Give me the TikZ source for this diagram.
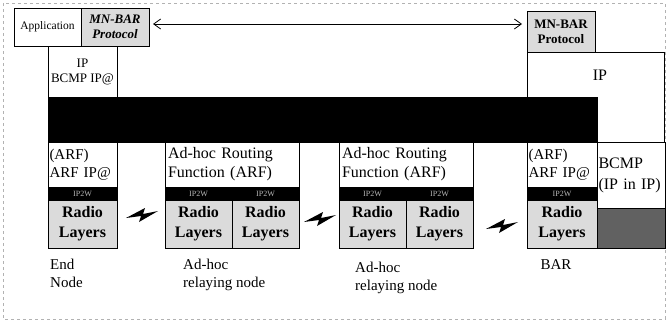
\documentclass[tikz,border=0pt]{standalone}
\usepackage{fontspec}
\setmainfont{Liberation Serif}
\usetikzlibrary{arrows.meta}
\tikzset{
  box/.style={draw, line width=0.6pt, inner sep=0pt, outer sep=0pt, align=center},
  arfbox/.style={box, align=left, inner xsep=3pt, font=\fontsize{16}{19}\selectfont},
  endarf/.style={box, align=left, inner xsep=1.5pt, font=\fontsize{15}{18}\selectfont},
  greybox/.style={box, fill=gray!28},
  radbox/.style={greybox, font=\fontsize{16}{20}\selectfont\bfseries},
  darkbox/.style={box, fill=black!62},
  blackbar/.style={fill=black, draw=black, inner sep=0pt, outer sep=0pt},
  strip/.style={fill=black, draw=black, line width=0.6pt, inner sep=0pt, outer sep=0pt, text=gray!55, font=\fontsize{8}{9}\selectfont},
  lbl/.style={inner sep=0pt, align=left, anchor=north west, font=\fontsize{15}{18}\selectfont},
  txt/.style={inner sep=0pt, align=left},
  boltshape/.style={fill=black}
}
\newcommand{\mybolt}[2]{\fill[boltshape, shift={(#1,#2)}] (-16,4) -- (3,-6) -- (1,0) -- (16,-3) -- (-3,8) -- (-1,2) -- cycle;}
\begin{document}
\begin{tikzpicture}[x=1pt,y=-1pt]
\useasboundingbox (0,0) rectangle (668,324);
\draw[gray!60, dashed, line width=0.5pt] (3,3) rectangle (665,319);
% top left stack
\node[box, minimum width=67pt, minimum height=38pt, font=\fontsize{11.5}{13}\selectfont] (app) at (47.5,27) {Application};
\node[greybox, minimum width=68pt, minimum height=38pt, font=\fontsize{13}{15}\selectfont\bfseries\itshape] (mnl) at (115,27) {MN-BAR\\Protocol};
\node[box, minimum width=69pt, minimum height=51pt, font=\fontsize{13}{15}\selectfont] (ipl) at (82.5,71.5) {IP\\BCMP IP@};
% right stack
\node[greybox, minimum width=68pt, minimum height=41pt, font=\fontsize{13}{15}\selectfont\bfseries] (mnr) at (561,31.5) {MN-BAR\\Protocol};
\node[box, minimum width=137pt, minimum height=90pt] (ipr) at (595.5,97) {};
\node[txt, font=\fontsize{16}{18}\selectfont] (iprt) at (600,75) {IP};
% black bar
\node[blackbar, minimum width=549pt, minimum height=45pt] (bar) at (322.5,119.5) {};
% arrow
\draw[{Straight Barb[length=7pt,width=10pt]}-{Straight Barb[length=7pt,width=10pt]}, line width=0.8pt]
  ([shift={(4,-3)}]mnl.east) -- ([shift={(-5,-7.5)}]mnr.west);
% End node
\node[endarf, minimum width=69pt, minimum height=45pt, text width=66pt] (earf) at (82.5,164.5) {(ARF)\\ARF IP@};
\node[strip, minimum width=69pt, minimum height=13pt] (eip) at (82.5,193.5) {IP2W};
\node[radbox, minimum width=69pt, minimum height=48pt] (erad) at (82.5,224) {Radio\\Layers};
% Relay 1
\node[arfbox, minimum width=134pt, minimum height=45pt, text width=128pt] (r1arf) at (232,164.5) {Ad-hoc Routing\\Function (ARF)};
\node[strip, minimum width=67pt, minimum height=13pt] (r1ipa) at (198.5,193.5) {IP2W};
\node[strip, minimum width=67pt, minimum height=13pt] (r1ipb) at (265.5,193.5) {IP2W};
\node[radbox, minimum width=67pt, minimum height=48pt] (r1rada) at (198.5,224) {Radio\\Layers};
\node[radbox, minimum width=67pt, minimum height=48pt] (r1radb) at (265.5,224) {Radio\\Layers};
% Relay 2
\node[arfbox, minimum width=134pt, minimum height=45pt, text width=128pt] (r2arf) at (406,164.5) {Ad-hoc Routing\\Function (ARF)};
\node[strip, minimum width=67pt, minimum height=13pt] (r2ipa) at (372.5,193.5) {IP2W};
\node[strip, minimum width=67pt, minimum height=13pt] (r2ipb) at (439.5,193.5) {IP2W};
\node[radbox, minimum width=67pt, minimum height=48pt] (r2rada) at (372.5,224) {Radio\\Layers};
\node[radbox, minimum width=67pt, minimum height=48pt] (r2radb) at (439.5,224) {Radio\\Layers};
% BAR
\node[endarf, minimum width=70pt, minimum height=45pt, text width=67pt] (barf) at (562,164.5) {(ARF)\\ARF IP@};
\node[strip, minimum width=70pt, minimum height=13pt] (bip) at (562,193.5) {IP2W};
\node[radbox, minimum width=70pt, minimum height=48pt] (brad) at (562,224) {Radio\\Layers};
\node[endarf, minimum width=68pt, minimum height=66pt, text width=65pt, font=\fontsize{16}{21}\selectfont] (bcmp) at (631,175) {BCMP\\(IP in IP)};
\node[darkbox, minimum width=68pt, minimum height=40pt] (bdark) at (631,228) {};
% lightning bolts
\mybolt{142}{214}
\mybolt{320}{218}
\mybolt{502}{225}
% labels
\node[lbl] (lend) at (50,259) {End\\Node};
\node[lbl] (lr1) at (183,259) {Ad-hoc\\relaying node};
\node[lbl] (lr2) at (355,262) {Ad-hoc\\relaying node};
\node[lbl, anchor=center] (lbar) at (556,265) {BAR};
\end{tikzpicture}
\end{document}
